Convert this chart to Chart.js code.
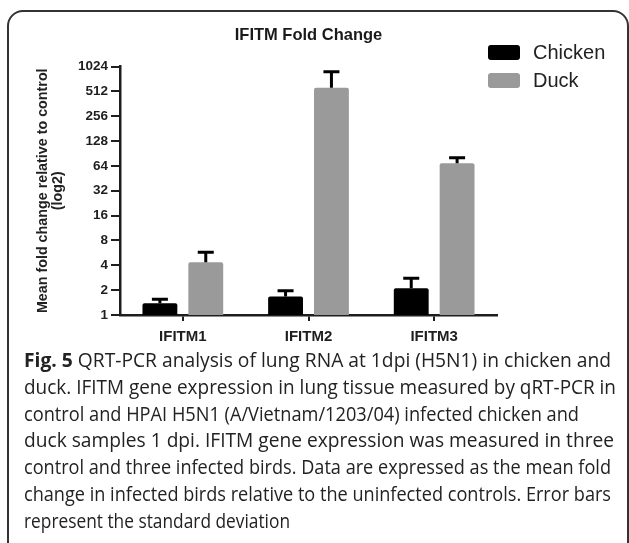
<!DOCTYPE html>
<html>
<head>
<meta charset="utf-8">
<title>IFITM Fold Change</title>
<script src="https://cdn.jsdelivr.net/npm/chart.js@4"></script>
<style>
  html, body { margin: 0; padding: 0; background: #fff; }
  body { width: 629px; height: 543px; position: relative; overflow: hidden; }
  .frame {
    position: absolute; left: 7px; top: 10px; width: 618px; height: 600px;
    border: 2px solid #333; border-radius: 16px;
  }
  .chart-wrap { position: absolute; left: 0; top: 0; width: 629px; height: 350px; }
  .legend { position: absolute; left: 0; top: 0; font-family: 'Liberation Sans', Arial, sans-serif; }
  .leg-box { position: absolute; width: 32px; height: 15px; border-radius: 3px; }
  .leg-text { position: absolute; font-size: 20px; line-height: 20px; color: #222; white-space: nowrap; }
  .caption {
    position: absolute; left: 24px; top: 347px;
    font-family: 'Open Sans', 'Noto Sans', sans-serif;
    font-size: 19.5px; line-height: 26.8px; color: #222; white-space: nowrap;
  }
  .caption .ln { height: 26.8px; }
  .caption .ln span { display: inline-block; transform-origin: 0 0; }
  .caption b { font-weight: bold; }
</style>
</head>
<body>
<div class="frame"></div>
<div class="chart-wrap"><canvas id="fold-chart"></canvas></div>
<div class="legend" id="legend"></div>
<div class="caption" id="caption"></div>
<script>
(function () {
  'use strict';

  // --- Data ---
  var categories = ['IFITM1', 'IFITM2', 'IFITM3'];
  var seriesNames = ['Chicken', 'Duck'];
  var chickenMean = [1.39, 1.67, 2.11];
  var chickenSd = [0.16, 0.30, 0.67];
  var duckMean = [4.35, 567, 68.8];
  var duckSd = [1.40, 319, 11.7];
  var yTicks = [1, 2, 4, 8, 16, 32, 64, 128, 256, 512, 1024];
  var yTitle = ['Mean fold change relative to control', '(log2)'];
  var chartTitle = 'IFITM Fold Change';

  var captionLines = [
    ' QRT-PCR analysis of lung RNA at 1dpi (H5N1) in chicken and',
    'duck. IFITM gene expression in lung tissue measured by qRT-PCR in',
    'control and HPAI H5N1 (A/Vietnam/1203/04) infected chicken and',
    'duck samples 1 dpi. IFITM gene expression was measured in three',
    'control and three infected birds. Data are expressed as the mean fold',
    'change in infected birds relative to the uninfected controls. Error bars',
    'represent the standard deviation'
  ];
  // right end of each caption line in the figure (px)
  var captionEnds = [611, 616, 579, 614, 611, 611, 290];

  var colors = ['#000000', '#9a9a9a'];
  var axisColor = '#1e1e1e';
  var font = "'Liberation Sans', Arial, sans-serif";

  // --- Error bars (upper only, like Prism) ---
  var errorBars = {
    id: 'errorBars',
    afterDatasetsDraw: function (chart) {
      var ctx = chart.ctx;
      var y = chart.scales.y;
      var sets = [[chickenMean, chickenSd], [duckMean, duckSd]];
      ctx.save();
      ctx.strokeStyle = '#000';
      ctx.lineWidth = 3;
      for (var d = 0; d < sets.length; d++) {
        var meta = chart.getDatasetMeta(d);
        for (var i = 0; i < meta.data.length; i++) {
          var bar = meta.data[i];
          var top = y.getPixelForValue(sets[d][0][i]);
          var cap = y.getPixelForValue(sets[d][0][i] + sets[d][1][i]);
          ctx.beginPath();
          ctx.moveTo(bar.x, top);
          ctx.lineTo(bar.x, cap);
          ctx.moveTo(bar.x - 8, cap);
          ctx.lineTo(bar.x + 8, cap);
          ctx.stroke();
        }
      }
      ctx.restore();
    }
  };

  // --- Chart ---
  new Chart(document.getElementById('fold-chart'), {
    type: 'bar',
    data: {
      labels: categories,
      datasets: [
        {
          label: seriesNames[0],
          data: chickenMean,
          backgroundColor: colors[0],
          borderRadius: 2,
          borderSkipped: 'bottom',
          categoryPercentage: 0.73,
          barPercentage: 0.76
        },
        {
          label: seriesNames[1],
          data: duckMean,
          backgroundColor: colors[1],
          borderRadius: 2,
          borderSkipped: 'bottom',
          categoryPercentage: 0.73,
          barPercentage: 0.76
        }
      ]
    },
    options: {
      responsive: true,
      maintainAspectRatio: false,
      animation: false,
      layout: { padding: { left: 0, right: 132, top: 0, bottom: 0 } },
      plugins: {
        legend: { display: false },
        tooltip: { enabled: false },
        title: {
          display: true,
          text: chartTitle,
          fullSize: false,
          color: '#1a1a1a',
          font: { family: font, size: 16.5, weight: 'bold', lineHeight: 1.2 },
          padding: { top: 25.5, bottom: 21.2 }
        }
      },
      scales: {
        x: {
          type: 'category',
          offset: true,
          afterFit: function (scale) { scale.height = 35; },
          grid: { offset: false, drawOnChartArea: false, drawTicks: true, tickLength: 6, color: axisColor, lineWidth: 2 },
          border: { display: true, color: axisColor, width: 2.5 },
          ticks: { color: '#1e1e1e', padding: 7, font: { family: font, size: 15, weight: 'bold' } }
        },
        y: {
          type: 'logarithmic',
          min: 1,
          max: 1024,
          afterFit: function (scale) { scale.width = 120; },
          afterBuildTicks: function (scale) {
            scale.ticks = yTicks.map(function (v) { return { value: v }; });
          },
          grid: { drawOnChartArea: false, drawTicks: true, tickLength: 9, color: axisColor, lineWidth: 2 },
          border: { display: true, color: axisColor, width: 2.5 },
          ticks: {
            autoSkip: false,
            color: '#1e1e1e',
            padding: 3,
            font: { family: font, size: 13.5, weight: 'bold' },
            callback: function (v) { return String(v); }
          },
          title: {
            display: true,
            text: yTitle,
            color: '#222',
            font: { family: font, size: 14.3, weight: 'bold', lineHeight: 1.05 },
            padding: { top: 35.5, bottom: 0 }
          }
        }
      }
    },
    plugins: [errorBars]
  });

  // --- Legend ---
  var legend = document.getElementById('legend');
  var legTops = [45, 73];
  var html = '';
  for (var i = 0; i < seriesNames.length; i++) {
    html += '<div class="leg-box" style="left:488px;top:' + legTops[i] + 'px;background:' + colors[i] + '"></div>';
    html += '<div class="leg-text" style="left:533px;top:' + (legTops[i] - 2.6) + 'px">' + seriesNames[i] + '</div>';
  }
  legend.innerHTML = html;

  // --- Caption (each line condensed to the figure's line width) ---
  var capEl = document.getElementById('caption');
  var cap = '';
  for (var k = 0; k < captionLines.length; k++) {
    cap += '<div class="ln"><span>' + (k === 0 ? '<b>Fig. 5</b>' : '') + captionLines[k] + '</span></div>';
  }
  capEl.innerHTML = cap;
  var spans = capEl.querySelectorAll('.ln span');
  for (var m = 0; m < spans.length; m++) {
    var w = spans[m].getBoundingClientRect().width;
    if (w > 0) spans[m].style.transform = 'scaleX(' + ((captionEnds[m] - 24) / w) + ')';
  }
})();
</script>
</body>
</html>
